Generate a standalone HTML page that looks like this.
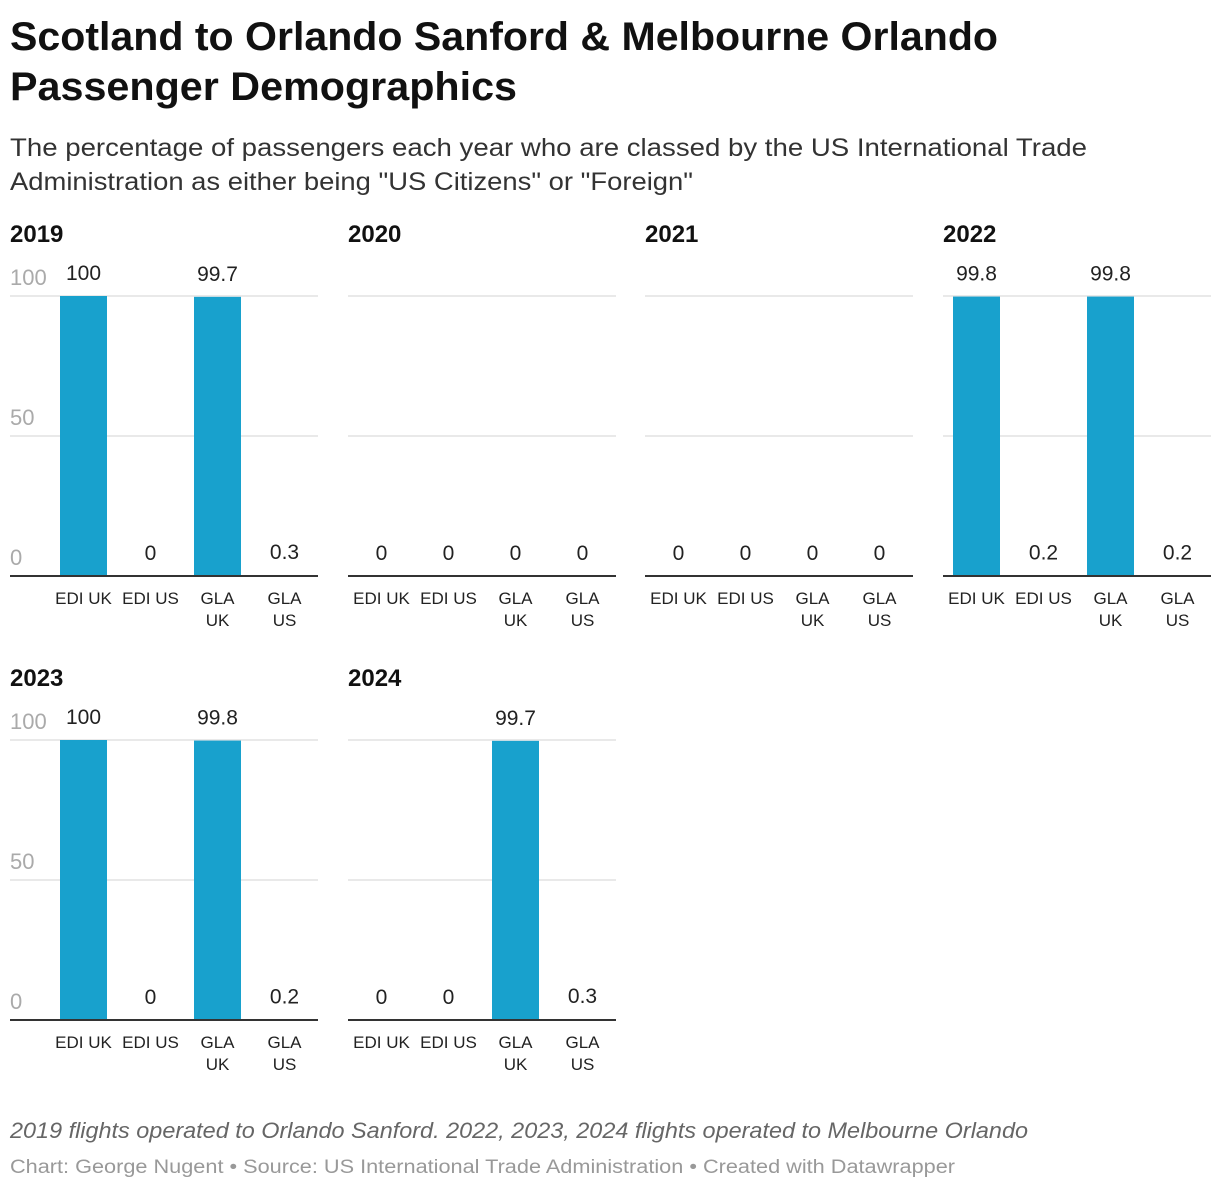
<!DOCTYPE html>
<html><head><meta charset="utf-8"><style>
body{margin:0;background:#fff;width:1220px;height:1190px;overflow:hidden;font-family:"Liberation Sans",Arial,sans-serif}
</style></head><body>
<svg id="chart" width="1220" height="1190" xmlns="http://www.w3.org/2000/svg" font-family="Liberation Sans, Arial, sans-serif">
<text x="10" y="50" font-size="40" font-weight="bold" fill="#111" textLength="988" lengthAdjust="spacingAndGlyphs">Scotland to Orlando Sanford &amp; Melbourne Orlando</text>
<text x="10" y="100" font-size="40" font-weight="bold" fill="#111" textLength="507" lengthAdjust="spacingAndGlyphs">Passenger Demographics</text>
<text x="10" y="156" font-size="25" fill="#333" textLength="1077" lengthAdjust="spacingAndGlyphs">The percentage of passengers each year who are classed by the US International Trade</text>
<text x="10" y="190" font-size="25" fill="#333" textLength="683" lengthAdjust="spacingAndGlyphs">Administration as either being "US Citizens" or "Foreign"</text>
<text x="10" y="1138" font-size="22" font-style="italic" fill="#666" textLength="1018" lengthAdjust="spacingAndGlyphs">2019 flights operated to Orlando Sanford. 2022, 2023, 2024 flights operated to Melbourne Orlando</text>
<text x="10" y="1173" font-size="19" fill="#999" textLength="945" lengthAdjust="spacingAndGlyphs">Chart: George Nugent • Source: US International Trade Administration • Created with Datawrapper</text>
<g id="panels"></g>
</svg>
<script>
const years = ["2019","2020","2021","2022","2023","2024"];
const categories = ["EDI UK","EDI US","GLA UK","GLA US"];
const values2019 = [100, 0, 99.7, 0.3];
const values2020 = [0, 0, 0, 0];
const values2021 = [0, 0, 0, 0];
const values2022 = [99.8, 0.2, 99.8, 0.2];
const values2023 = [100, 0, 99.8, 0.2];
const values2024 = [0, 0, 99.7, 0.3];
const yTicks = [0, 50, 100];
const allValues = [values2019, values2020, values2021, values2022, values2023, values2024];

const NS = "http://www.w3.org/2000/svg";
const root = document.getElementById('panels');
function mk(tag, attrs, parent, text){
  const e = document.createElementNS(NS, tag);
  for (const k in attrs) e.setAttribute(k, attrs[k]);
  if (text !== undefined) e.textContent = text;
  parent.appendChild(e);
  return e;
}
const panelX = [50, 348, 645, 943];
const panelW = 268;
allValues.forEach((vals, i) => {
  const col = i % 4, row = Math.floor(i / 4);
  const x0 = panelX[col];
  const base = 576 + row * 444;
  const yScale = v => base - v * 2.8;
  const band = panelW / categories.length;
  const xCenter = j => x0 + band * (j + 0.5);
  const g = mk('g', {}, root);
  
  
  const tx = col === 0 ? 10 : x0;
  const t = mk('text', {x: tx, y: base - 334, 'font-size': 24, 'font-weight': 'bold', fill: '#111'}, g, years[i]);
  
  
  const gx = col === 0 ? 10 : x0;
  yTicks.forEach(v => {
    if (v > 0) {
      const l = mk('line', {x1: gx, x2: x0 + panelW, y1: yScale(v), y2: yScale(v), stroke: '#e2e2e2', 'stroke-width': 1.5}, g);
      
      
    }
    if (col === 0) {
      const lt = mk('text', {x: 10, y: yScale(v) - 11, 'font-size': 22, fill: '#aaa'}, g, String(v));
      
      
    }
  });
  vals.forEach((v, j) => {
    const bw = 47;
    const r = mk('rect', {x: xCenter(j) - bw/2, y: yScale(v), width: bw, height: base - yScale(v), fill: '#18a1cd'}, g);
    
    
    const vt = mk('text', {x: xCenter(j), y: yScale(v) - 16, 'font-size': 21, fill: '#222', 'text-anchor': 'middle'}, g, String(v));
    
    
    const parts = categories[j].startsWith('GLA') ? categories[j].split(' ') : [categories[j]];
    parts.forEach((p, k) => {
      const ct = mk('text', {x: xCenter(j), y: base + 28 + k * 22, 'font-size': 17, fill: '#222', 'text-anchor': 'middle'}, g, p);
      
      
    });
  });
  const ax = mk('line', {x1: gx, x2: x0 + panelW, y1: base, y2: base, stroke: '#333', 'stroke-width': 2}, g);
  
  
});
</script>
</body></html>
